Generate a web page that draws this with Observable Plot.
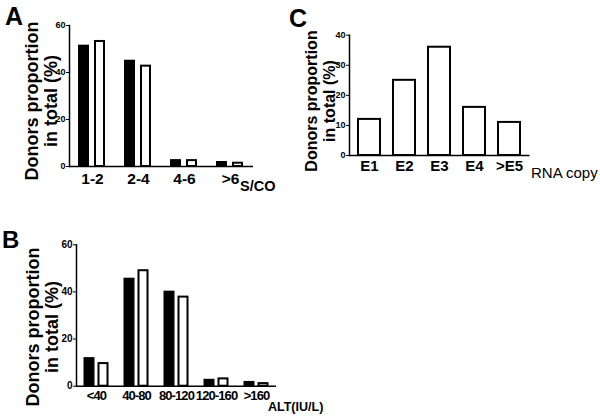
<!DOCTYPE html>
<html><head><meta charset="utf-8">
<script src="https://cdn.jsdelivr.net/npm/d3@7"></script>
<script src="https://cdn.jsdelivr.net/npm/@observablehq/plot@0.6"></script>
<style>
body{margin:0;background:#fff}
#wrap{position:relative;width:600px;height:416px;overflow:hidden;background:#fff}
.panel{position:absolute}
svg text{font-family:"Liberation Sans",Arial,Helvetica,sans-serif}
.pb g[aria-label="fx-axis tick label"] text{letter-spacing:-0.9px}
</style></head>
<body><div id="wrap"></div>
<script>
// Panel A: S/CO
const aCategories = ["1-2", "2-4", "4-6", ">6"];
const aSeries1 = [51.2, 44.8, 2.5, 1.7];
const aSeries2 = [53.2, 42.7, 2.5, 1.4];
const aTicks = [0, 20, 40, 60];
// Panel B: ALT
const bCategories = ["<40", "40-80", "80-120", "120-160", ">160"];
const bSeries1 = [11.7, 45.4, 39.9, 2.5, 1.6];
const bSeries2 = [9.6, 49.0, 37.8, 3.1, 1.1];
const bTicks = [0, 20, 40, 60];
// Panel C: RNA copy
const cCategories = ["E1", "E2", "E3", "E4", ">E5"];
const cValues = [12, 25, 36, 16, 11];
const cTicks = [0, 10, 20, 30, 40];
const seriesKeys = ["s1", "s2"];
const yTitle = ["Donors proportion", "in total (%)"];

const FONT = "Liberation Sans, Arial, Helvetica, sans-serif";
const wrap = document.getElementById("wrap");

function pairs(cats, s1, s2) {
  const out = [];
  cats.forEach((c, i) => {
    out.push({cat: c, series: seriesKeys[0], value: s1[i]});
    out.push({cat: c, series: seriesKeys[1], value: s2[i]});
  });
  return out;
}

function groupedPanel(cats, s1, s2, ticks, o) {
  return Plot.plot({
    width: 300, height: o.height,
    marginTop: o.mt, marginBottom: o.mb, marginLeft: o.ml, marginRight: o.mr,
    style: {fontFamily: FONT, background: "transparent", overflow: "visible"},
    fx: {domain: cats, padding: 0, label: null},
    x: {domain: seriesKeys, paddingInner: o.pi, paddingOuter: o.po, axis: null},
    y: {domain: [0, ticks[ticks.length - 1]], label: null},
    color: {domain: seriesKeys, range: ["#000", "#fff"]},
    marks: [
      Plot.barY(pairs(cats, s1, s2), {fx: "cat", x: "series", y: "value", fill: "series", stroke: "#000", strokeWidth: 2}),
      Plot.ruleY([0], {stroke: "#000", strokeWidth: 1.5}),
      Plot.frame({anchor: "left", facetAnchor: "left", stroke: "#000", strokeWidth: 1.5}),
      Plot.axisY({ticks: ticks, tickSize: 3, tickPadding: 1, fontSize: o.yfs, fontWeight: "bold", label: null, facetAnchor: "left"}),
      Plot.axisFx({anchor: "bottom", tickSize: 0, tickPadding: o.xpad, fontSize: o.xfs, fontWeight: "bold", label: null})
    ]
  });
}

const pA = groupedPanel(aCategories, aSeries1, aSeries2, aTicks,
  {height: 200, mt: 25, mb: 34, ml: 69, mr: 46.5, pi: 0.41, po: 0.56, yfs: 9, xfs: 15.5, xpad: 6});
pA.classList.add("panel"); pA.style.left = "0px"; pA.style.top = "0px";
wrap.appendChild(pA);

const pB = groupedPanel(bCategories, bSeries1, bSeries2, bTicks,
  {height: 206, mt: 34.3, mb: 30.3, ml: 75.5, mr: 24.3, pi: 0.35, po: 0.51, yfs: 10, xfs: 13, xpad: 5});
pB.classList.add("panel"); pB.classList.add("pb"); pB.style.left = "0px"; pB.style.top = "210px";
wrap.appendChild(pB);

const pC = Plot.plot({
  width: 300, height: 200,
  marginTop: 34.7, marginBottom: 45, marginLeft: 49, marginRight: 70.5,
  style: {fontFamily: FONT, background: "transparent", overflow: "visible"},
  x: {domain: cCategories, paddingInner: 0.366, paddingOuter: 0.197, label: null},
  y: {domain: [0, cTicks[cTicks.length - 1]], label: null},
  marks: [
    Plot.barY(cCategories.map((c, i) => ({cat: c, value: cValues[i]})), {x: "cat", y: "value", fill: "#fff", stroke: "#000", strokeWidth: 2}),
    Plot.ruleY([0], {stroke: "#000", strokeWidth: 1.5}),
    Plot.frame({anchor: "left", stroke: "#000", strokeWidth: 1.5}),
    Plot.axisY({ticks: cTicks, tickSize: 3, tickPadding: 1, fontSize: 9, fontWeight: "bold", label: null}),
    Plot.axisX({tickSize: 0, tickPadding: 4.5, fontSize: 15, fontWeight: "bold", label: null})
  ]
});
pC.classList.add("panel"); pC.style.left = "300px"; pC.style.top = "0px";
wrap.appendChild(pC);

// Overlay text: panel letters, axis titles
const ov = d3.select(wrap).append("svg").attr("class", "panel")
  .attr("width", 600).attr("height", 416)
  .style("left", "0px").style("top", "0px").style("pointer-events", "none");

function txt(x, y, s, size, weight) {
  return ov.append("text").attr("x", x).attr("y", y).attr("font-size", size)
    .attr("font-weight", weight).attr("fill", "#000").text(s);
}
function vtitle(x1, x2, cy, size) {
  [x1, x2].forEach((x, i) => {
    ov.append("text").attr("transform", `translate(${x},${cy}) rotate(-90)`)
      .attr("text-anchor", "middle").attr("font-size", size).attr("font-weight", "bold")
      .attr("fill", "#000").text(yTitle[i]);
  });
}
txt(5, 25, "A", 25, "bold");
txt(2, 248, "B", 24, "bold");
txt(289, 27, "C", 25, "bold");
vtitle(38, 57, 101, 18);
vtitle(39, 57.5, 327, 18);
vtitle(317, 335, 101, 16);
txt(240, 191, "S/CO", 14.5, "bold");
txt(268, 411, "ALT(IU/L)", 12.5, "bold");
txt(531, 178, "RNA copy", 15, "normal");
</script>
</body></html>
